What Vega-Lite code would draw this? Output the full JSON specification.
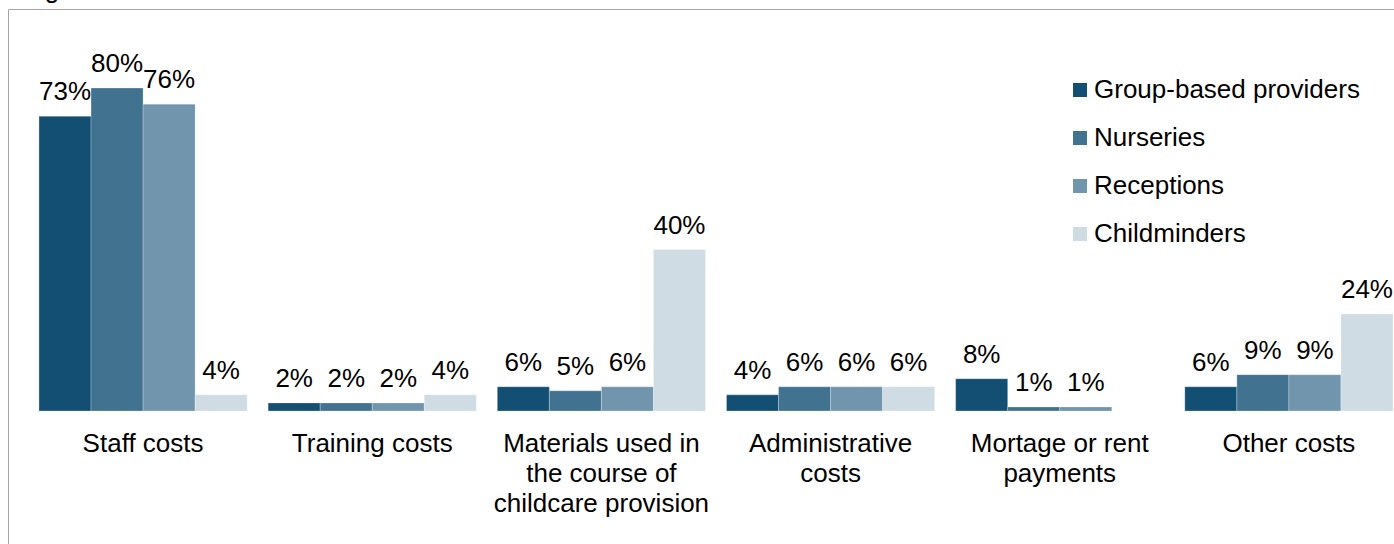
{
  "$schema": "https://vega.github.io/schema/vega-lite/v6.json",
  "width": 1387,
  "height": 536,
  "autosize": {"type": "none"},
  "padding": {"left": 8, "top": 9, "right": 0, "bottom": 0},
  "background": "white",
  "config": {
    "font": "Liberation Sans",
    "view": {"stroke": "#a6a6a6", "strokeWidth": 1}
  },
  "title": {
    "text": "Figure",
    "anchor": "start",
    "fontSize": 26,
    "fontWeight": "normal",
    "color": "black",
    "baseline": "alphabetic",
    "offset": 0,
    "dx": 15,
    "dy": 15,
    "font": "Liberation Sans"
  },
  "data": {
    "values": [
      {"cost": "Staff costs", "provider": "Group-based providers", "value": 0.73},
      {"cost": "Staff costs", "provider": "Nurseries", "value": 0.80},
      {"cost": "Staff costs", "provider": "Receptions", "value": 0.76},
      {"cost": "Staff costs", "provider": "Childminders", "value": 0.04},
      {"cost": "Training costs", "provider": "Group-based providers", "value": 0.02},
      {"cost": "Training costs", "provider": "Nurseries", "value": 0.02},
      {"cost": "Training costs", "provider": "Receptions", "value": 0.02},
      {"cost": "Training costs", "provider": "Childminders", "value": 0.04},
      {"cost": "Materials used in|the course of|childcare provision", "provider": "Group-based providers", "value": 0.06},
      {"cost": "Materials used in|the course of|childcare provision", "provider": "Nurseries", "value": 0.05},
      {"cost": "Materials used in|the course of|childcare provision", "provider": "Receptions", "value": 0.06},
      {"cost": "Materials used in|the course of|childcare provision", "provider": "Childminders", "value": 0.40},
      {"cost": "Administrative|costs", "provider": "Group-based providers", "value": 0.04},
      {"cost": "Administrative|costs", "provider": "Nurseries", "value": 0.06},
      {"cost": "Administrative|costs", "provider": "Receptions", "value": 0.06},
      {"cost": "Administrative|costs", "provider": "Childminders", "value": 0.06},
      {"cost": "Mortage or rent|payments", "provider": "Group-based providers", "value": 0.08},
      {"cost": "Mortage or rent|payments", "provider": "Nurseries", "value": 0.01},
      {"cost": "Mortage or rent|payments", "provider": "Receptions", "value": 0.01},
      {"cost": "Other costs", "provider": "Group-based providers", "value": 0.06},
      {"cost": "Other costs", "provider": "Nurseries", "value": 0.09},
      {"cost": "Other costs", "provider": "Receptions", "value": 0.09},
      {"cost": "Other costs", "provider": "Childminders", "value": 0.24}
    ]
  },
  "encoding": {
    "x": {
      "field": "cost",
      "type": "nominal",
      "sort": ["Staff costs", "Training costs", "Materials used in|the course of|childcare provision", "Administrative|costs", "Mortage or rent|payments", "Other costs"],
      "scale": {"paddingInner": 0.0916, "paddingOuter": 0.072, "align": 0.939},
      "axis": {
        "title": null,
        "domain": false,
        "ticks": false,
        "grid": false,
        "labelAngle": 0,
        "labelFontSize": 26,
        "labelColor": "black",
        "labelPadding": 19,
        "labelLimit": 0,
        "labelLineHeight": 30,
        "labelBaseline": "top",
        "offset": -134,
        "labelExpr": "split(datum.label, '|')"
      }
    },
    "xOffset": {
      "field": "provider",
      "type": "nominal",
      "sort": ["Group-based providers", "Nurseries", "Receptions", "Childminders"],
      "scale": {"paddingInner": 0, "paddingOuter": 0}
    }
  },
  "layer": [
    {
      "mark": {"type": "bar", "stroke": "white", "strokeWidth": 0.75, "strokeOpacity": 0.35},
      "encoding": {
        "y": {
          "field": "value",
          "type": "quantitative",
          "scale": {"domain": [-0.3319, 0.9957], "nice": false, "zero": false},
          "axis": null
        },
        "y2": {"datum": 0},
        "color": {
          "field": "provider",
          "type": "nominal",
          "sort": ["Group-based providers", "Nurseries", "Receptions", "Childminders"],
          "scale": {
            "domain": ["Group-based providers", "Nurseries", "Receptions", "Childminders"],
            "range": ["#134F72", "#41728F", "#7095AC", "#CFDCE4"]
          },
          "legend": {
            "title": null,
            "orient": "none",
            "legendX": 1059,
            "legendY": 68,
            "direction": "vertical",
            "symbolType": "square",
            "symbolSize": 196,
            "symbolStrokeWidth": 0,
            "symbolOpacity": 1,
            "labelFontSize": 26,
            "labelColor": "black",
            "labelOffset": 1,
            "rowPadding": 22,
            "padding": 0,
            "labelLimit": 0
          }
        }
      }
    },
    {
      "mark": {"type": "text", "baseline": "alphabetic", "dy": -16, "fontSize": 26, "color": "black"},
      "encoding": {
        "y": {"field": "value", "type": "quantitative", "axis": null},
        "text": {"field": "value", "type": "quantitative", "format": ".0%"}
      }
    }
  ]
}
